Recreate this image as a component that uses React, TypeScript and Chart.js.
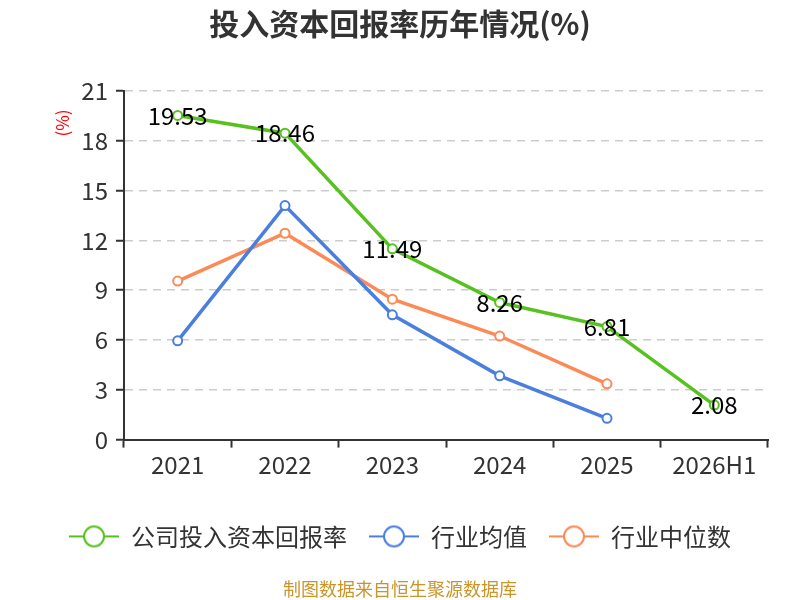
import React, { useEffect, useRef } from "react";
import { Chart, registerables } from "chart.js";

Chart.register(...registerables);

const titleText = "投入资本回报率历年情况(%)";
const sourceText = "制图数据来自恒生聚源数据库";
const yAxisUnit = "(%)";
const categories = ["2021", "2022", "2023", "2024", "2025", "2026H1"];
const companyLabel = "公司投入资本回报率";
const companyValues = [19.53, 18.46, 11.49, 8.26, 6.81, 2.08];
const avgLabel = "行业均值";
const avgValues: (number | null)[] = [5.95, 14.1, 7.52, 3.84, 1.28, null];
const medianLabel = "行业中位数";
const medianValues: (number | null)[] = [9.55, 12.43, 8.46, 6.24, 3.36, null];
const yTicks = [0, 3, 6, 9, 12, 15, 18, 21];

const GREEN = "#56c11f";
const BLUE = "#4a7fe0";
const ORANGE = "#fd8a56";
const FONT = "'Noto Sans CJK SC', 'Noto Sans', sans-serif";

function legendIcon(color: string): HTMLCanvasElement {
  const c = document.createElement("canvas");
  c.width = 50;
  c.height = 24;
  const ctx = c.getContext("2d")!;
  ctx.strokeStyle = color;
  ctx.lineWidth = 2;
  ctx.beginPath();
  ctx.moveTo(0, 12);
  ctx.lineTo(50, 12);
  ctx.stroke();
  ctx.beginPath();
  ctx.arc(25, 12, 10, 0, Math.PI * 2);
  ctx.fillStyle = "#fff";
  ctx.fill();
  ctx.stroke();
  return c;
}

const valueLabelPlugin = {
  id: "valueLabels",
  afterDatasetsDraw(chart: any) {
    const ctx = chart.ctx;
    const meta = chart.getDatasetMeta(0);
    const ds = chart.data.datasets[0];
    ctx.save();
    ctx.font = `24px ${FONT}`;
    ctx.fillStyle = "#000";
    ctx.textAlign = "center";
    ctx.textBaseline = "middle";
    meta.data.forEach((pt: any, i: number) => {
      const v = ds.data[i];
      if (v == null) return;
      ctx.fillText(Number(v).toFixed(2), pt.x, pt.y);
    });
    ctx.restore();
  },
};

const unitPlugin = {
  id: "unitLabel",
  afterDraw(chart: any) {
    const ctx = chart.ctx;
    const area = chart.chartArea;
    ctx.save();
    ctx.font = `17px ${FONT}`;
    ctx.fillStyle = "#f00";
    ctx.textAlign = "center";
    ctx.textBaseline = "middle";
    ctx.translate(area.left - 61, area.top + 32);
    ctx.rotate(-Math.PI / 2);
    ctx.fillText(yAxisUnit, 0, 0);
    ctx.restore();
  },
};

export default function App() {
  const ref = useRef<HTMLCanvasElement>(null);
  useEffect(() => {
    document.body.style.margin = "0";
    const icons = [legendIcon(GREEN), legendIcon(BLUE), legendIcon(ORANGE)];
    const mk = (label: string, data: any[], color: string) => ({
      label,
      data,
      borderColor: color,
      backgroundColor: color,
      borderWidth: 3.5,
      pointRadius: 4.5,
      pointBorderWidth: 2,
      pointBackgroundColor: "#fff",
      pointBorderColor: color,
      tension: 0,
      spanGaps: false,
    });
    const chart = new Chart(ref.current!, {
      type: "line",
      data: {
        labels: categories,
        datasets: [
          mk(companyLabel, companyValues, GREEN),
          mk(avgLabel, avgValues, BLUE),
          mk(medianLabel, medianValues, ORANGE),
        ],
      },
      plugins: [valueLabelPlugin, unitPlugin],
      options: {
        animation: false,
        responsive: false,
        devicePixelRatio: 1,
        layout: { padding: 0 },
        scales: {
          x: {
            offset: true,
            grid: {
              display: true,
              drawOnChartArea: false,
              drawTicks: true,
              tickLength: 8,
              tickColor: "#333",
              tickWidth: 2,
              offset: true,
            },
            border: { display: true, color: "#333", width: 2 },
            ticks: { color: "#333", font: { family: FONT, size: 24 }, padding: 3 },
            afterFit: (s: any) => {
              s.height += 20;
            },
          },
          y: {
            min: 0,
            max: 21,
            afterBuildTicks: (s: any) => {
              s.ticks = yTicks.map((v) => ({ value: v }));
            },
            afterFit: (s: any) => {
              s.width = 124;
            },
            grid: {
              color: "#cccccc",
              lineWidth: 1.5,
              drawTicks: true,
              tickLength: 8,
              tickColor: "#333",
              tickWidth: 2,
            },
            border: { display: true, color: "#333", width: 2, dash: [8, 6] },
            ticks: { color: "#333", font: { family: FONT, size: 24 }, padding: 8 },
          },
          yRight: {
            display: true,
            position: "right",
            min: 0,
            max: 21,
            grid: { display: false, drawOnChartArea: false },
            border: { display: false },
            ticks: { display: false },
            afterFit: (s: any) => {
              s.width = 32;
            },
          },
        },
        plugins: {
          title: {
            display: true,
            text: titleText,
            color: "#333",
            font: { family: FONT, size: 30, weight: "bold" },
            padding: { top: 6, bottom: 49 },
          },
          subtitle: {
            display: true,
            text: sourceText,
            position: "bottom",
            color: "#c9952a",
            font: { family: FONT, size: 18 },
            padding: { top: 20, bottom: 0 },
            weight: 1500,
          } as any,
          legend: {
            display: true,
            position: "bottom",
            weight: 1000,
            labels: {
              usePointStyle: true,
              pointStyleWidth: 50,
              padding: 22,
              color: "#333",
              font: { family: FONT, size: 24 },
              generateLabels: (ch: any) => {
                const items = Chart.defaults.plugins.legend.labels.generateLabels(ch);
                return items.map((it: any, i: number) => ({ ...it, pointStyle: icons[i] }));
              },
            },
          } as any,
          tooltip: { enabled: false },
        },
      } as any,
    });
    return () => chart.destroy();
  }, []);
  return <canvas ref={ref} width={800} height={600} style={{ display: "block" }} />;
}
